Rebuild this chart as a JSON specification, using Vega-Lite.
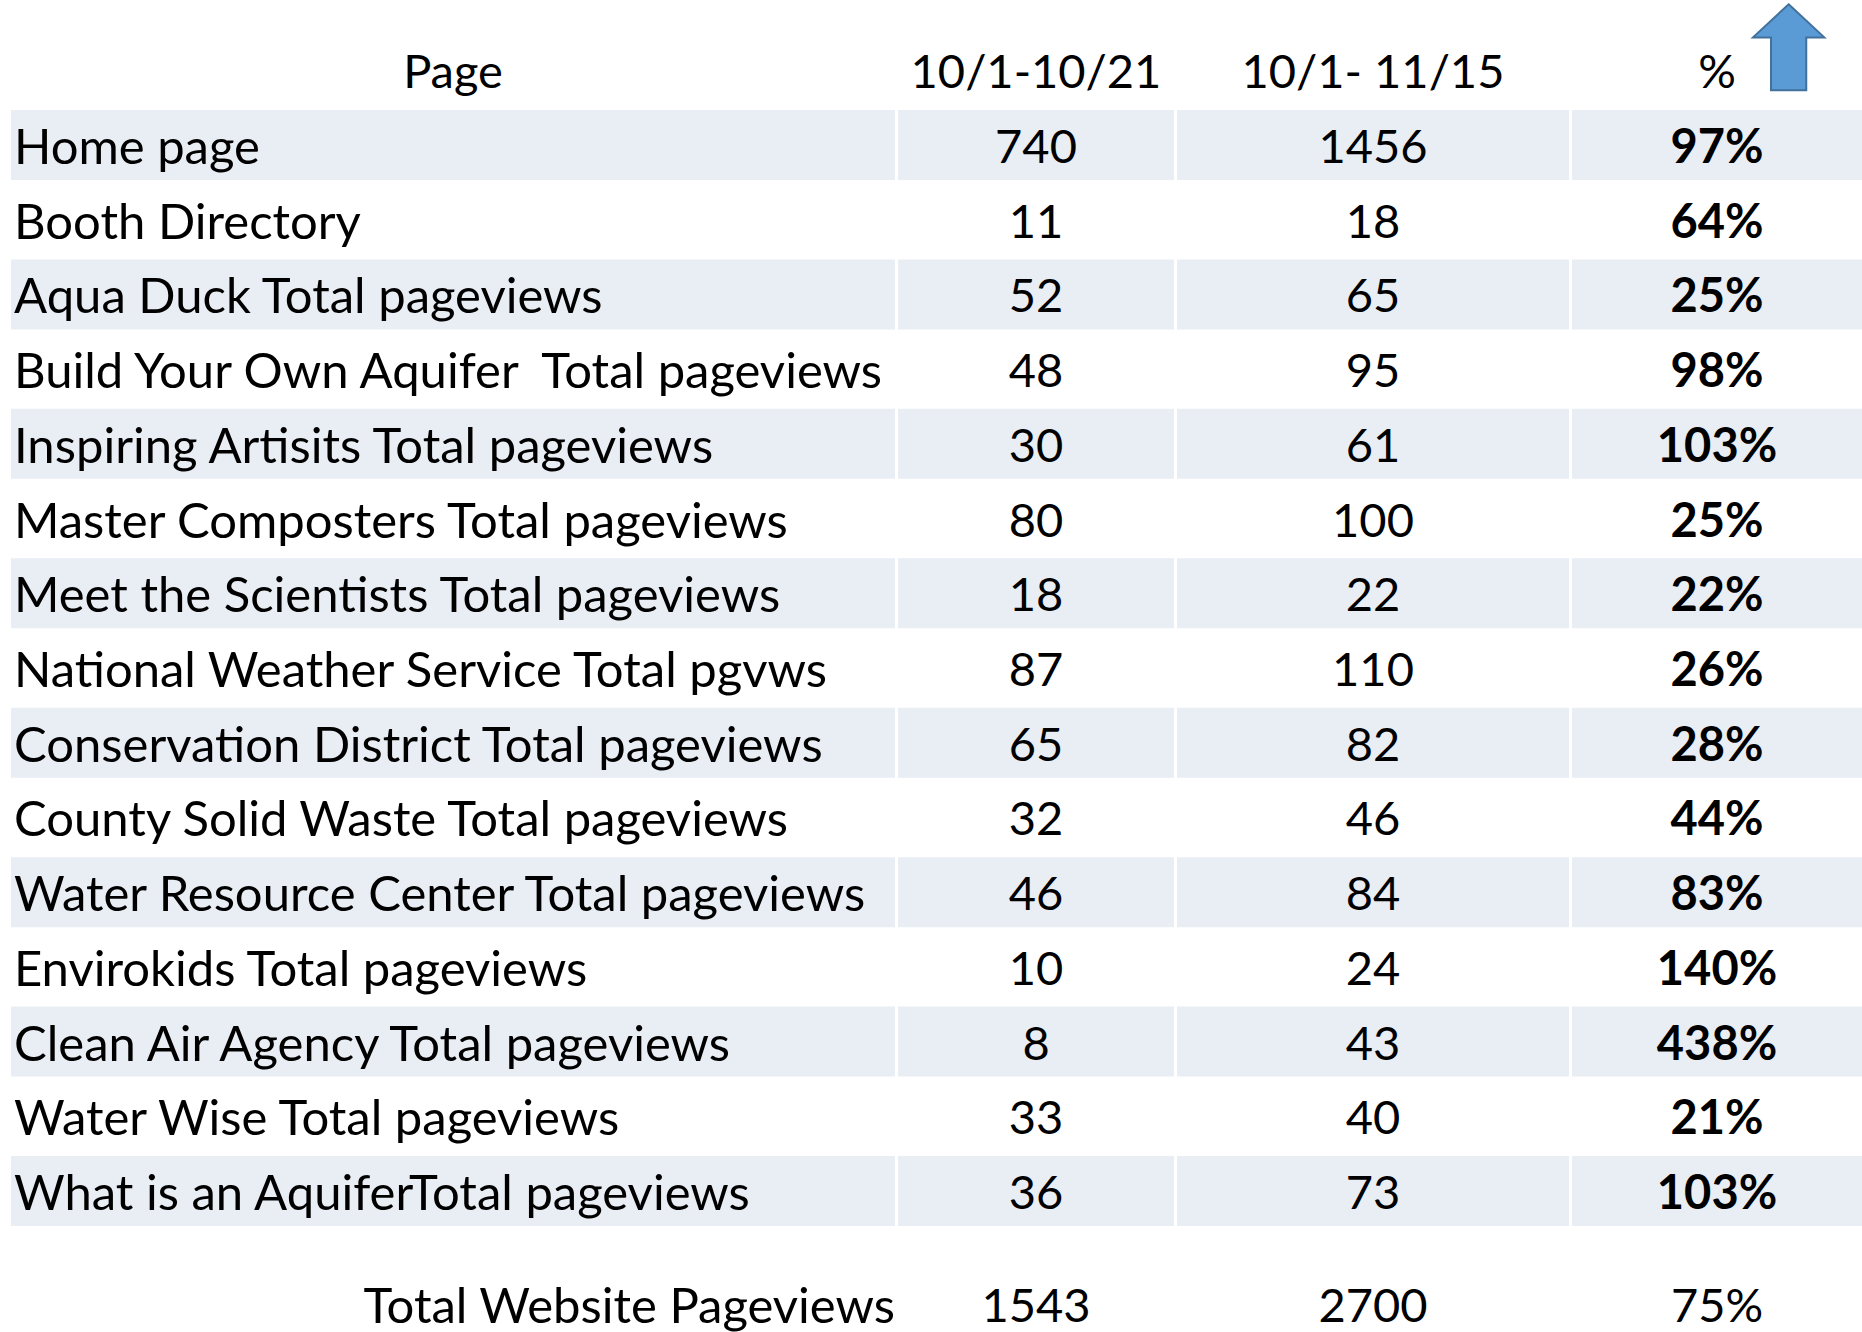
{
  "$schema": "https://vega.github.io/schema/vega-lite/v6.json",
  "padding": {"left": 11, "top": 0, "right": 0, "bottom": 0},
  "background": "white",
  "spacing": 3,
  "config": {
    "view": {"stroke": null},
    "text": {"font": "Lato", "fontSize": 47, "color": "black"}
  },
  "datasets": {
    "pages": [
      {"idx": 1, "page": "Home page", "oct21": 740, "nov15": 1456, "change": 0.97},
      {"idx": 2, "page": "Booth Directory", "oct21": 11, "nov15": 18, "change": 0.64},
      {"idx": 3, "page": "Aqua Duck Total pageviews", "oct21": 52, "nov15": 65, "change": 0.25},
      {"idx": 4, "page": "Build Your Own Aquifer \u00a0Total pageviews", "oct21": 48, "nov15": 95, "change": 0.98},
      {"idx": 5, "page": "Inspiring Artisits Total pageviews", "oct21": 30, "nov15": 61, "change": 1.03},
      {"idx": 6, "page": "Master Composters Total pageviews", "oct21": 80, "nov15": 100, "change": 0.25},
      {"idx": 7, "page": "Meet the Scientists Total pageviews", "oct21": 18, "nov15": 22, "change": 0.22},
      {"idx": 8, "page": "\u00a0National Weather Service Total pgvws", "oct21": 87, "nov15": 110, "change": 0.26},
      {"idx": 9, "page": "\u00a0Conservation District Total pageviews", "oct21": 65, "nov15": 82, "change": 0.28},
      {"idx": 10, "page": "County Solid Waste Total pageviews", "oct21": 32, "nov15": 46, "change": 0.44},
      {"idx": 11, "page": "Water Resource Center Total pageviews", "oct21": 46, "nov15": 84, "change": 0.83},
      {"idx": 12, "page": "Envirokids Total pageviews", "oct21": 10, "nov15": 24, "change": 1.40},
      {"idx": 13, "page": "\u00a0Clean Air Agency Total pageviews", "oct21": 8, "nov15": 43, "change": 4.38},
      {"idx": 14, "page": "Water Wise Total pageviews", "oct21": 33, "nov15": 40, "change": 0.21},
      {"idx": 15, "page": "What is an AquiferTotal pageviews", "oct21": 36, "nov15": 73, "change": 1.03}
    ],
    "total": [
      {"idx": 16, "page": "Total Website Pageviews", "oct21": 1543, "nov15": 2700, "change": 0.75}
    ]
  },
  "hconcat": [
    {
      "width": 884, "height": 1330,
      "layer": [
        {
          "data": {"name": "pages"},
          "transform": [{"filter": "datum.idx % 2 == 1"}],
          "mark": {"type": "rect", "color": "#E9EDF4"},
          "encoding": {
            "y": {"field": "idx", "type": "ordinal", "axis": null,
                  "scale": {"domain": [0,1,2,3,4,5,6,7,8,9,10,11,12,13,14,15,16], "paddingInner": 0.063, "paddingOuter": 0.432}}
          }
        },
        {
          "data": {"name": "pages"},
          "mark": {"type": "text", "align": "left", "baseline": "middle", "dx": 3, "dy": 4, "fontSize": 49},
          "encoding": {
            "x": {"datum": 0, "type": "quantitative", "axis": null, "scale": {"domain": [0, 1]}},
            "y": {"field": "idx", "type": "ordinal"},
            "text": {"field": "page"}
          }
        },
        {
          "data": {"values": [{"idx": 0, "label": "Page"}]},
          "mark": {"type": "text", "align": "center", "baseline": "middle", "dy": 4},
          "encoding": {
            "x": {"datum": 0.5, "type": "quantitative"},
            "y": {"field": "idx", "type": "ordinal"},
            "text": {"field": "label"}
          }
        },
        {
          "data": {"name": "total"},
          "mark": {"type": "text", "align": "right", "baseline": "middle", "dy": 42, "fontSize": 49},
          "encoding": {
            "x": {"datum": 1, "type": "quantitative"},
            "y": {"field": "idx", "type": "ordinal"},
            "text": {"field": "page"}
          }
        }
      ]
    },
    {
      "width": 276, "height": 1330,
      "layer": [
        {
          "data": {"name": "pages"},
          "transform": [{"filter": "datum.idx % 2 == 1"}],
          "mark": {"type": "rect", "color": "#E9EDF4"},
          "encoding": {
            "y": {"field": "idx", "type": "ordinal", "axis": null,
                  "scale": {"domain": [0,1,2,3,4,5,6,7,8,9,10,11,12,13,14,15,16], "paddingInner": 0.063, "paddingOuter": 0.432}}
          }
        },
        {
          "data": {"name": "pages"},
          "mark": {"type": "text", "align": "center", "baseline": "middle", "dy": 4},
          "encoding": {
            "x": {"datum": 0.5, "type": "quantitative", "axis": null, "scale": {"domain": [0, 1]}},
            "y": {"field": "idx", "type": "ordinal"},
            "text": {"field": "oct21"}
          }
        },
        {
          "data": {"values": [{"idx": 0, "label": "10/1-10/21"}]},
          "mark": {"type": "text", "align": "center", "baseline": "middle", "dy": 4},
          "encoding": {
            "x": {"datum": 0.5, "type": "quantitative"},
            "y": {"field": "idx", "type": "ordinal"},
            "text": {"field": "label"}
          }
        },
        {
          "data": {"name": "total"},
          "mark": {"type": "text", "align": "center", "baseline": "middle", "dy": 42},
          "encoding": {
            "x": {"datum": 0.5, "type": "quantitative"},
            "y": {"field": "idx", "type": "ordinal"},
            "text": {"field": "oct21"}
          }
        }
      ]
    },
    {
      "width": 392, "height": 1330,
      "layer": [
        {
          "data": {"name": "pages"},
          "transform": [{"filter": "datum.idx % 2 == 1"}],
          "mark": {"type": "rect", "color": "#E9EDF4"},
          "encoding": {
            "y": {"field": "idx", "type": "ordinal", "axis": null,
                  "scale": {"domain": [0,1,2,3,4,5,6,7,8,9,10,11,12,13,14,15,16], "paddingInner": 0.063, "paddingOuter": 0.432}}
          }
        },
        {
          "data": {"name": "pages"},
          "mark": {"type": "text", "align": "center", "baseline": "middle", "dy": 4},
          "encoding": {
            "x": {"datum": 0.5, "type": "quantitative", "axis": null, "scale": {"domain": [0, 1]}},
            "y": {"field": "idx", "type": "ordinal"},
            "text": {"field": "nov15"}
          }
        },
        {
          "data": {"values": [{"idx": 0, "label": "10/1- 11/15"}]},
          "mark": {"type": "text", "align": "center", "baseline": "middle", "dy": 4},
          "encoding": {
            "x": {"datum": 0.5, "type": "quantitative"},
            "y": {"field": "idx", "type": "ordinal"},
            "text": {"field": "label"}
          }
        },
        {
          "data": {"name": "total"},
          "mark": {"type": "text", "align": "center", "baseline": "middle", "dy": 42},
          "encoding": {
            "x": {"datum": 0.5, "type": "quantitative"},
            "y": {"field": "idx", "type": "ordinal"},
            "text": {"field": "nov15"}
          }
        }
      ]
    },
    {
      "width": 290, "height": 1330,
      "layer": [
        {
          "data": {"name": "pages"},
          "transform": [{"filter": "datum.idx % 2 == 1"}],
          "mark": {"type": "rect", "color": "#E9EDF4"},
          "encoding": {
            "y": {"field": "idx", "type": "ordinal", "axis": null,
                  "scale": {"domain": [0,1,2,3,4,5,6,7,8,9,10,11,12,13,14,15,16], "paddingInner": 0.063, "paddingOuter": 0.432}}
          }
        },
        {
          "data": {"name": "pages"},
          "mark": {"type": "text", "align": "center", "baseline": "middle", "dy": 4, "fontWeight": "bold"},
          "encoding": {
            "x": {"datum": 0.5, "type": "quantitative", "axis": null, "scale": {"domain": [0, 1]}},
            "y": {"field": "idx", "type": "ordinal"},
            "text": {"field": "change", "type": "quantitative", "format": ".0%"}
          }
        },
        {
          "data": {"values": [{"idx": 0, "label": "%"}]},
          "mark": {"type": "text", "align": "center", "baseline": "middle", "dy": 4},
          "encoding": {
            "x": {"datum": 0.5, "type": "quantitative"},
            "y": {"field": "idx", "type": "ordinal"},
            "text": {"field": "label"}
          }
        },
        {
          "data": {"values": [{"idx": 0, "label": "up"}]},
          "mark": {"type": "point", "filled": true, "shape": "M0,-1L0.83,-0.23L0.41,-0.23L0.41,1L-0.41,1L-0.41,-0.23L-0.83,-0.23Z", "size": 7396, "fill": "#5B9BD5", "stroke": "#41719C", "strokeWidth": 2, "opacity": 1, "yOffset": -23},
          "encoding": {
            "x": {"datum": 0.747, "type": "quantitative"},
            "y": {"field": "idx", "type": "ordinal"}
          }
        },
        {
          "data": {"name": "total"},
          "mark": {"type": "text", "align": "center", "baseline": "middle", "dy": 42},
          "encoding": {
            "x": {"datum": 0.5, "type": "quantitative"},
            "y": {"field": "idx", "type": "ordinal"},
            "text": {"field": "change", "type": "quantitative", "format": ".0%"}
          }
        }
      ]
    }
  ]
}
